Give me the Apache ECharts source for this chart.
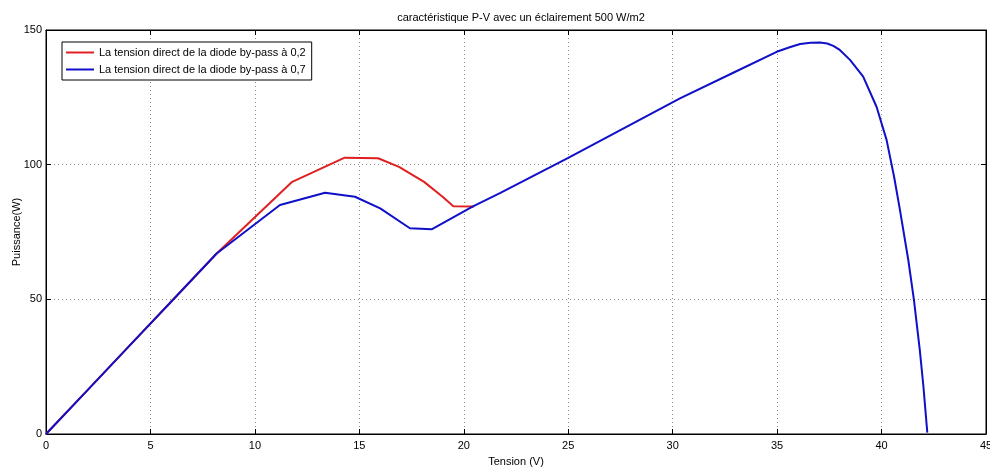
<!DOCTYPE html>
<html><head><meta charset="utf-8">
<script src="https://cdn.jsdelivr.net/npm/echarts@6/dist/echarts.min.js"></script>
<style>html,body{margin:0;padding:0;background:#fff}#c{width:990px;height:470px}</style>
</head><body><div id="c"></div>
<script>
const titleText = "caractéristique P-V avec un éclairement 500 W/m2";
const xName = "Tension (V)";
const yName = "Puissance(W)";
const name02 = "La tension direct de la diode by-pass à 0,2";
const name07 = "La tension direct de la diode by-pass à 0,7";
const redX = [0, 2, 4, 6, 8.17, 11.76, 14.3, 15.9, 16.9, 18.1, 19.0, 19.5, 20.5];
const redY = [0, 16.4, 32.8, 49.2, 67, 93.5, 102.6, 102.4, 99.2, 93.6, 88, 84.6, 84.5];
const blueX = [0, 2, 4, 6, 8.17, 11.2, 13.36, 14.79, 16.0, 17.42, 18.46, 20.44, 21.73, 25, 30.35, 33, 34.98, 35.6, 36.1, 36.6, 37.05, 37.4, 37.69, 38.0, 38.49, 39.12, 39.76, 40.24, 40.6, 40.88, 41.28, 41.55, 41.83, 42.0, 42.19];
const blueY = [0, 16.4, 32.8, 49.2, 67, 85, 89.6, 88.1, 83.8, 76.4, 76.0, 84.5, 89.4, 102.5, 124.6, 134.5, 141.9, 143.6, 144.8, 145.3, 145.4, 145.0, 144.1, 142.6, 138.9, 132.7, 121.5, 109.2, 95.5, 83.2, 64.6, 49.8, 31.2, 18.0, 0.5];
const xTicks = [0, 5, 10, 15, 20, 25, 30, 35, 40, 45];
const yTicks = [0, 50, 100, 150];

const pairs = (xs, ys) => xs.map((x, i) => [x, ys[i]]);
const font = "Liberation Sans";
const chart = echarts.init(document.getElementById('c'));
const baseX = {
  type: 'value', min: xTicks[0], max: xTicks[xTicks.length - 1], interval: 5,
  axisLine: { show: true, onZero: false, lineStyle: { color: '#000', width: 1 } },
  axisTick: { show: true, inside: true, length: 5, lineStyle: { color: '#000' } },
};
const baseY = {
  type: 'value', min: yTicks[0], max: yTicks[yTicks.length - 1], interval: 50,
  axisLine: { show: true, onZero: false, lineStyle: { color: '#000', width: 1 } },
  axisTick: { show: true, inside: true, length: 5, lineStyle: { color: '#000' } },
};
chart.setOption({
  animation: false,
  backgroundColor: '#fff',
  title: { text: titleText, left: 516, textAlign: 'center', top: 7,
    textStyle: { fontFamily: font, fontSize: 11, fontWeight: 'normal', color: '#000' } },
  grid: { left: 46, right: 4, top: 30, bottom: 36, show: true, borderColor: '#000', borderWidth: 1,
    containLabel: false, outerBoundsMode: 'none' },
  legend: {
    orient: 'vertical', left: 62, top: 42, itemWidth: 28, itemHeight: 2, itemGap: 6,
    padding: [5, 6, 5, 4], borderColor: '#000', borderWidth: 1, backgroundColor: '#fff',
    icon: 'rect',
    textStyle: { fontFamily: font, fontSize: 11, color: '#000' },
    data: [name02, name07]
  },
  xAxis: [
    Object.assign({}, baseX, {
      position: 'bottom', name: xName, nameLocation: 'middle', nameGap: 22, nameMoveOverlap: false,
      nameTextStyle: { fontFamily: font, fontSize: 11, color: '#000' },
      axisLabel: { fontFamily: font, fontSize: 11, color: '#000', margin: 6 },
      splitLine: { show: true, lineStyle: { color: '#888', type: [1, 3], width: 1 } }
    }),
    Object.assign({}, baseX, { position: 'top', axisLabel: { show: false }, splitLine: { show: false } })
  ],
  yAxis: [
    Object.assign({}, baseY, {
      position: 'left', name: yName, nameLocation: 'middle', nameGap: 24, nameMoveOverlap: false,
      nameTextStyle: { fontFamily: font, fontSize: 11, color: '#000' },
      axisLabel: { fontFamily: font, fontSize: 11, color: '#000', margin: 4 },
      splitLine: { show: true, lineStyle: { color: '#888', type: [1, 3], width: 1 } }
    }),
    Object.assign({}, baseY, { position: 'right', axisLabel: { show: false }, splitLine: { show: false } })
  ],
  series: [
    { name: name02, type: 'line', data: pairs(redX, redY), showSymbol: false, smooth: false,
      lineStyle: { color: '#e02020', width: 2 }, itemStyle: { color: '#e02020' } },
    { name: name07, type: 'line', data: pairs(blueX, blueY), showSymbol: false, smooth: false,
      lineStyle: { color: '#1010c8', width: 2 }, itemStyle: { color: '#1010c8' } }
  ]
});
</script></body></html>
